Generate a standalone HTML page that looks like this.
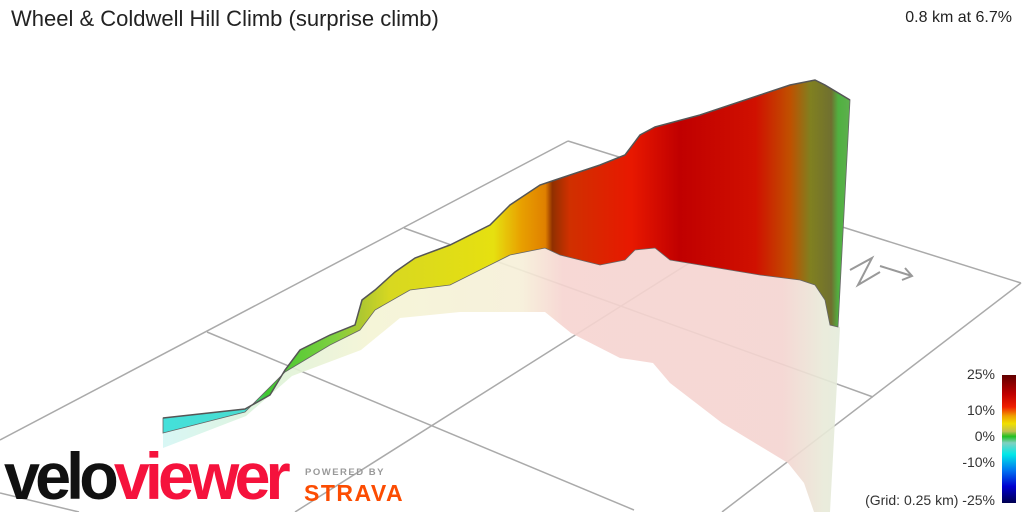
<!DOCTYPE html>
<html><head><meta charset="utf-8"><style>
body{margin:0;width:1024px;height:512px;overflow:hidden;background:#fff;font-family:"Liberation Sans",sans-serif;position:relative}
.t{position:absolute;white-space:nowrap}
</style></head><body>
<svg width="1024" height="512" style="position:absolute;left:0;top:0">
<defs>
<linearGradient id="w" gradientUnits="userSpaceOnUse" x1="163" y1="0" x2="852" y2="0">
<stop offset="0" stop-color="#44e0da"/>
<stop offset="0.12" stop-color="#48dcd0"/>
<stop offset="0.15" stop-color="#40c830"/>
<stop offset="0.25" stop-color="#80d040"/>
<stop offset="0.29" stop-color="#b0c830"/>
<stop offset="0.33" stop-color="#d8d820"/>
<stop offset="0.48" stop-color="#e6e010"/>
<stop offset="0.52" stop-color="#e8a000"/>
<stop offset="0.555" stop-color="#e08000"/>
<stop offset="0.565" stop-color="#903000"/>
<stop offset="0.59" stop-color="#d03000"/>
<stop offset="0.68" stop-color="#e81800"/>
<stop offset="0.75" stop-color="#c00000"/>
<stop offset="0.86" stop-color="#d01000"/>
<stop offset="0.91" stop-color="#c05000"/>
<stop offset="0.94" stop-color="#808020"/>
<stop offset="0.97" stop-color="#707030"/>
<stop offset="0.98" stop-color="#50b040"/>
<stop offset="1" stop-color="#60b050"/>
</linearGradient>
<linearGradient id="p" gradientUnits="userSpaceOnUse" x1="163" y1="0" x2="852" y2="0">
<stop offset="0" stop-color="#d4f6f4"/>
<stop offset="0.15" stop-color="#dcf2d8"/>
<stop offset="0.3" stop-color="#f4f4d4"/>
<stop offset="0.52" stop-color="#f6efd8"/>
<stop offset="0.58" stop-color="#f6d4d0"/>
<stop offset="0.9" stop-color="#f4d4d0"/>
<stop offset="0.96" stop-color="#e8ead8"/>
<stop offset="1" stop-color="#e0ecdc"/>
</linearGradient>
<linearGradient id="cb" x1="0" y1="0" x2="0" y2="1">
<stop offset="0" stop-color="#600000"/>
<stop offset="0.15" stop-color="#c00000"/>
<stop offset="0.25" stop-color="#f02000"/>
<stop offset="0.32" stop-color="#f0a000"/>
<stop offset="0.38" stop-color="#f0e000"/>
<stop offset="0.44" stop-color="#c0c050"/>
<stop offset="0.48" stop-color="#20c020"/>
<stop offset="0.53" stop-color="#80d0c0"/>
<stop offset="0.62" stop-color="#00e8e8"/>
<stop offset="0.75" stop-color="#0070f0"/>
<stop offset="0.87" stop-color="#0000d0"/>
<stop offset="1" stop-color="#000050"/>
</linearGradient>
</defs>
<g stroke="#aaa" stroke-width="1.5" fill="none">
<line x1="0" y1="440" x2="568" y2="141"/>
<line x1="568" y1="141" x2="1021" y2="283"/>
<line x1="1021" y1="283" x2="722" y2="512"/>
<line x1="404" y1="228" x2="873" y2="397"/>
<line x1="207" y1="332" x2="634" y2="510"/>
<line x1="0" y1="493" x2="79" y2="512"/>
<line x1="295" y1="512" x2="778" y2="207"/>
</g>
<path d="M163,433 L163,448 L246,416 L292,376 L361,350 L400,318 L460,312 L545,312 L571,333 L620,358 L653,363 L670,383 L722,423 L788,463 L804,483 L814,512 L830,512 L840,327 L830,325 L825,300 L815,285 L800,280 L760,275 L700,265 L670,260 L655,248 L635,250 L625,260 L600,265 L560,255 L545,248 L510,255 L490,265 L450,285 L410,290 L375,310 L360,330 L330,345 L285,372 L245,412 Z" fill="url(#p)" opacity="0.9"/>
<path d="M163,418 L245,409 L270,395 L285,370 L300,350 L330,335 L355,325 L362,300 L375,290 L395,272 L415,258 L450,245 L490,225 L510,205 L540,185 L555,180 L600,165 L625,155 L640,135 L655,127 L700,115 L760,95 L790,85 L815,80 L825,85 L850,100 L838,327 L830,325 L825,300 L815,285 L800,280 L760,275 L700,265 L670,260 L655,248 L635,250 L625,260 L600,265 L560,255 L545,248 L510,255 L490,265 L450,285 L410,290 L375,310 L360,330 L330,345 L285,372 L245,412 L163,433 Z" fill="url(#w)" stroke="#666" stroke-width="0.8"/>
<path d="M163,418 L245,409 L270,395 L285,370 L300,350 L330,335 L355,325 L362,300 L375,290 L395,272 L415,258 L450,245 L490,225 L510,205 L540,185 L555,180 L600,165 L625,155 L640,135 L655,127 L700,115 L760,95 L790,85 L815,80 L825,85 L850,100" fill="none" stroke="#555" stroke-width="1.5"/>
<g stroke="#999" stroke-width="2" fill="none">
<path d="M850,270 L872,258 L858,285 L880,272"/>
<path d="M880,266 L912,276 M905,268 L912,276 L902,280"/>
</g>
<rect x="1002" y="375" width="14" height="128" fill="url(#cb)"/>
</svg>
<div class="t" style="left:11px;top:6px;font-size:22px;color:#222">Wheel &amp; Coldwell Hill Climb (surprise climb)</div>
<div class="t" style="right:12px;top:9px;font-size:16px;color:#222">0.8 km at 6.7%</div>
<div class="t" style="right:29px;top:366px;font-size:14px;color:#333">25%</div>
<div class="t" style="right:29px;top:402px;font-size:14px;color:#333">10%</div>
<div class="t" style="right:29px;top:428px;font-size:14px;color:#333">0%</div>
<div class="t" style="right:29px;top:454px;font-size:14px;color:#333">-10%</div>
<div class="t" style="right:29px;top:492px;font-size:14px;color:#333">(Grid: 0.25 km) -25%</div>
<div class="t" style="left:4px;top:436px;font-size:66px;font-weight:bold;letter-spacing:-5px;line-height:80px;transform:scaleX(0.98);transform-origin:left"><span style="color:#111">velo</span><span style="color:#f5123c">viewer</span></div>
<div class="t" style="left:305px;top:467px;font-size:9.5px;color:#999;letter-spacing:1.5px;font-weight:bold">POWERED BY</div>
<div class="t" style="left:304px;top:480px;font-size:23px;color:#fc4c02;font-weight:bold;letter-spacing:1.5px">STRAVA</div>
</body></html>
